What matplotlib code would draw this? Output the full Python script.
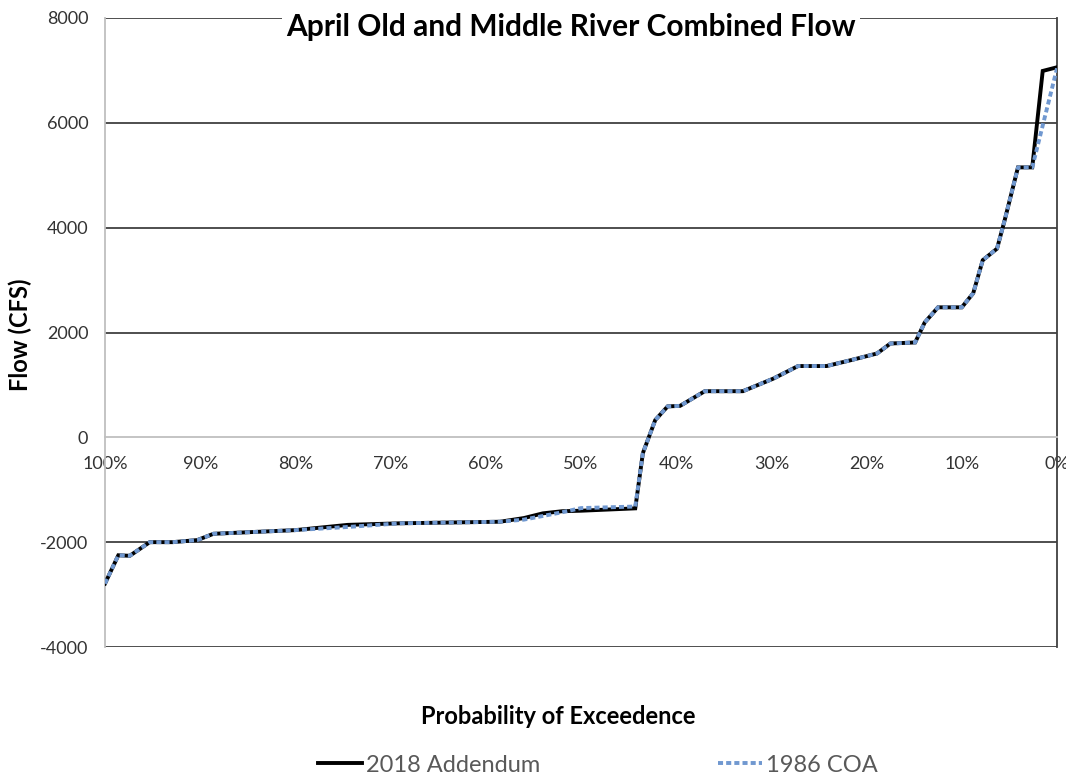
import matplotlib
matplotlib.use("Agg")
import matplotlib.pyplot as plt

plt.rcParams['font.family'] = ['Lato', 'DejaVu Sans']

# ---- data ----
title = "April Old and Middle River Combined Flow"
x_label = "Probability of Exceedence"
y_label = "Flow (CFS)"
series_names = ["2018 Addendum", "1986 COA"]

addendum_p = [100, 98.6, 97.4, 95.3, 92.9, 90.3, 88.6, 80, 74.5, 69, 58.5, 56, 54, 52,
              50, 44.3, 43.5, 42.2, 40.9, 39.6, 37, 33, 29.8, 27.2, 24.2, 21.7, 18.9,
              17.5, 14.9, 13.9, 12.5, 10, 8.8, 7.8, 6.3, 5.5, 4.1, 2.6, 1.5, 0]
addendum_q = [-2790, -2250, -2260, -2000, -2000, -1960, -1840, -1770, -1670, -1640, -1610,
              -1540, -1450, -1410, -1400, -1355, -300, 330, 590, 600, 880, 880, 1120, 1360,
              1360, 1470, 1600, 1790, 1810, 2190, 2480, 2480, 2750, 3380, 3600, 4140, 5150,
              5150, 6990, 7060]

coa_p = [100, 98.6, 97.4, 95.3, 92.9, 90.3, 88.6, 80, 74.5, 69, 58.5, 56, 54, 52,
         50, 44.3, 43.5, 42.2, 40.9, 39.6, 37, 33, 29.8, 27.2, 24.2, 21.7, 18.9,
         17.5, 14.9, 13.9, 12.5, 10, 8.8, 7.8, 6.3, 5.5, 4.1, 2.6, 0]
coa_q = [-2790, -2250, -2260, -2000, -2000, -1960, -1840, -1770, -1710, -1640, -1610,
         -1570, -1500, -1430, -1350, -1320, -300, 330, 590, 600, 880, 880, 1120, 1360,
         1360, 1470, 1600, 1790, 1810, 2190, 2480, 2480, 2750, 3380, 3600, 4140, 5150,
         5150, 7040]

x_ticks = [100, 90, 80, 70, 60, 50, 40, 30, 20, 10, 0]
x_tick_labels = ["100%", "90%", "80%", "70%", "60%", "50%", "40%", "30%", "20%", "10%", "0%"]
y_ticks = [-4000, -2000, 0, 2000, 4000, 6000, 8000]

# ---- figure ----
fig = plt.figure(figsize=(10.66, 7.75), dpi=100)
ax = fig.add_axes([105/1066, 1 - 647/775, (1057 - 105)/1066, (647 - 18)/775])

dark = '#404040'
light = '#bfbfbf'

for yv in y_ticks:
    if yv != 0:
        ax.axhline(yv, color=dark, lw=1.3, zorder=1)

l1, = ax.plot(addendum_p, addendum_q, color='black', lw=2.8, zorder=3,
              label=series_names[0], solid_joinstyle='miter')
l2, = ax.plot(coa_p, coa_q, color='#7098d0', lw=2.8, linestyle=(0, (1.3, 0.8)),
              zorder=4, label=series_names[1], dash_capstyle='butt')

ax.set_xlim(100, 0)
ax.set_ylim(-4000, 8000)
ax.set_xticks(x_ticks)
ax.set_xticklabels(x_tick_labels)
ax.set_yticks(y_ticks)
ax.set_yticklabels([str(v) for v in y_ticks])

ax.spines['top'].set_visible(False)
ax.spines['right'].set_color(dark)
ax.spines['right'].set_linewidth(1.3)
ax.spines['left'].set_color(light)
ax.spines['left'].set_linewidth(1.3)
ax.spines['bottom'].set_position(('data', 0))
ax.spines['bottom'].set_color(light)
ax.spines['bottom'].set_linewidth(1.3)

ax.tick_params(axis='x', length=0, pad=13.5, labelsize=13, labelcolor='#333333')
ax.tick_params(axis='y', length=0, pad=12, labelsize=13, labelcolor='#333333')

ax.text(0.49, 0.986, title, transform=ax.transAxes, ha='center', va='center',
        fontsize=21.5, fontweight='bold', color='black', zorder=10,
        bbox=dict(facecolor='white', edgecolor='none', pad=3))

fig.text(558/1066, 1 - 716/775, x_label, ha='center', va='center',
         fontsize=17, fontweight='bold')
fig.text(20/1066, 1 - 335/775, y_label, ha='center', va='center',
         fontsize=17, fontweight='bold', rotation=90)

leg = fig.legend(handles=[l1, l2], loc='center', bbox_to_anchor=(598/1066, 1 - 765/775),
                 ncol=2, frameon=False, fontsize=17, handlelength=1.87,
                 handletextpad=0.17, columnspacing=7.5)
for t in leg.get_texts():
    t.set_color('#595959')

fig.savefig("out.png", dpi=100)
